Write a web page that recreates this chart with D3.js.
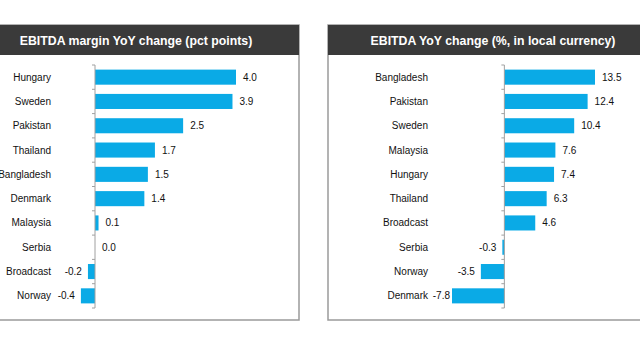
<!DOCTYPE html>
<html><head><meta charset="utf-8">
<script src="https://cdn.jsdelivr.net/npm/d3@7"></script>
<style>body{margin:0;background:#fff}svg{display:block;font-family:"Liberation Sans",Arial,sans-serif}</style>
</head><body><svg width="640" height="360"></svg>
<script>
const leftTitle = "EBITDA margin YoY change (pct points)";
const leftCategories = ["Hungary","Sweden","Pakistan","Thailand","Bangladesh","Denmark","Malaysia","Serbia","Broadcast","Norway"];
const leftValues = [4.0,3.9,2.5,1.7,1.5,1.4,0.1,0.0,-0.2,-0.4];
const rightTitle = "EBITDA YoY change (%, in local currency)";
const rightCategories = ["Bangladesh","Pakistan","Sweden","Malaysia","Hungary","Thailand","Broadcast","Serbia","Norway","Denmark"];
const rightValues = [13.5,12.4,10.4,7.6,7.4,6.3,4.6,-0.3,-3.5,-7.8];

const svg = d3.select("svg");
const barColor = "#0aaae6";

function panel(cfg){
  const g = svg.append("g");
  g.append("rect").attr("x",cfg.px).attr("y",25).attr("width",cfg.pw).attr("height",295)
    .attr("fill","#fff").attr("stroke","#9a9a9a").attr("stroke-width",1.5);
  g.append("rect").attr("x",cfg.px).attr("y",25).attr("width",cfg.pw).attr("height",30).attr("fill","#3a3a3a");
  g.append("text").attr("x",cfg.titleX).attr("y",45).attr("text-anchor","middle")
    .attr("fill","#fff").attr("font-weight","bold").attr("font-size",12.3).text(cfg.title);

  const x = d3.scaleLinear().domain(cfg.domain).range(cfg.range);
  const y = d3.scaleBand().domain(cfg.cats).range([65,308]).paddingInner(0.38).paddingOuter(0.19);
  const data = cfg.cats.map((c,i)=>({c,v:cfg.vals[i]}));

  g.selectAll("rect.bar").data(data).enter().append("rect").attr("class","bar")
    .attr("x",d=>x(Math.min(0,d.v))).attr("width",d=>Math.abs(x(d.v)-x(0)))
    .attr("y",d=>y(d.c)).attr("height",y.bandwidth()).attr("fill",barColor);

  const x0 = x(0);
  g.append("line").attr("x1",x0).attr("x2",x0).attr("y1",65).attr("y2",308).attr("stroke","#a0a0a0").attr("stroke-width",1);
  const bounds = cfg.cats.map(c=>y(c)-y.step()*y.paddingInner()/2).concat([308]);
  bounds[0]=65;
  g.selectAll("line.tk").data(bounds).enter().append("line").attr("class","tk")
    .attr("x1",x0-3).attr("x2",x0).attr("y1",d=>d).attr("y2",d=>d).attr("stroke","#a0a0a0");

  g.selectAll("text.cat").data(data).enter().append("text").attr("class","cat")
    .attr("x",cfg.labelX).attr("y",d=>y(d.c)+y.bandwidth()/2).attr("dy","0.35em")
    .attr("text-anchor","end").attr("font-size",10).attr("fill","#111").text(d=>d.c);

  g.selectAll("text.val").data(data).enter().append("text").attr("class","val")
    .attr("x",d=>d.v<0 ? Math.max(x(d.v)-6, cfg.labelX+22) : x(d.v)+7)
    .attr("y",d=>y(d.c)+y.bandwidth()/2).attr("dy","0.35em")
    .attr("text-anchor",d=>d.v<0?"end":"start").attr("font-size",10).attr("fill","#111")
    .text(d=>d3.format(".1f")(d.v).replace("−","-"));
}

panel({px:-30,pw:329,title:leftTitle,titleX:136,domain:[0,4],range:[95,236],cats:leftCategories,vals:leftValues,labelX:51});
panel({px:328,pw:340,title:rightTitle,titleX:493,domain:[-7.8,13.5],range:[452,595],cats:rightCategories,vals:rightValues,labelX:428});
</script></body></html>
